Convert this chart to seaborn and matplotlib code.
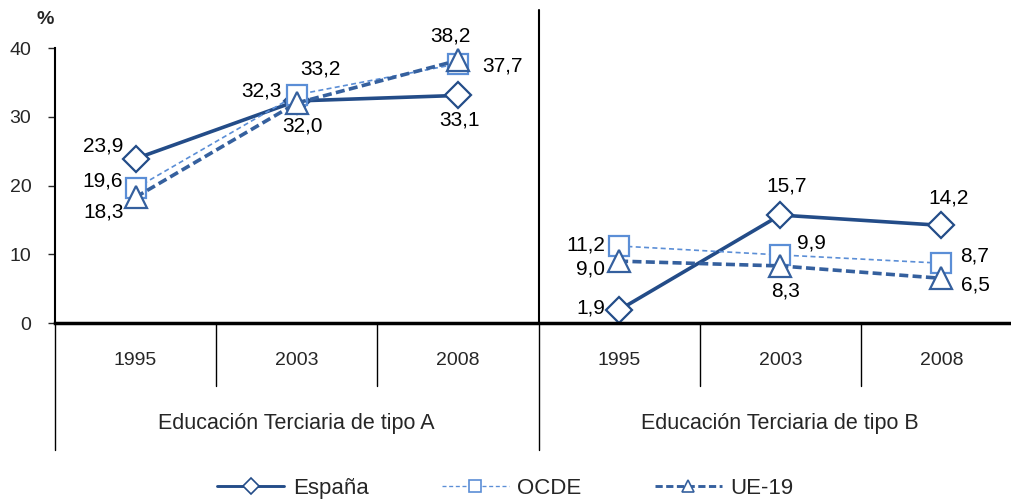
import pandas as pd
import matplotlib.pyplot as plt
from matplotlib.lines import Line2D
import seaborn as sns

grupos = ['Educación Terciaria de tipo A', 'Educación Terciaria de tipo B']
anios = ['1995', '2003', '2008']
series = ['España', 'OCDE', 'UE-19']

espana_a = [23.9, 32.3, 33.1]
espana_b = [1.9, 15.7, 14.2]
ocde_a = [19.6, 33.2, 37.7]
ocde_b = [11.2, 9.9, 8.7]
ue19_a = [18.3, 32.0, 38.2]
ue19_b = [9.0, 8.3, 6.5]

valores = {
    'España': [espana_a, espana_b],
    'OCDE': [ocde_a, ocde_b],
    'UE-19': [ue19_a, ue19_b],
}

rows = []
for s in series:
    for g, vals in enumerate(valores[s]):
        for i, v in enumerate(vals):
            rows.append({'serie': s, 'grupo': g, 'anio': anios[i],
                         'pos': g * len(anios) + i, 'valor': v})
df = pd.DataFrame(rows)

sns.set_style('white')
plt.rcParams['font.family'] = ['Liberation Sans', 'DejaVu Sans']

estilos = {
    'España': dict(color='#234C88', marker='D', markersize=13, linewidth=2.6, linestyle='-'),
    'OCDE': dict(color='#5B8ED6', marker='s', markersize=15, linewidth=1.2, linestyle=(0, (3, 2))),
    'UE-19': dict(color='#35609E', marker='^', markersize=16, linewidth=2.6, linestyle=(0, (2.5, 1.2))),
}

# label placement: (ha, dx, dy) in pixels from the point
etiquetas = {
    'España': [('right', -12, 13), ('right', -15, 10), ('center', 2, -25),
               ('right', -14, 2), ('center', 6, 29), ('center', 7, 27)],
    'OCDE': [('right', -13, 7), ('left', 3, 26), ('left', 24, -2),
             ('right', -14, 1), ('left', 17, 12), ('left', 19, 7)],
    'UE-19': [('right', -12, -15), ('center', 6, -23), ('center', -7, 24),
              ('right', -14, -8), ('center', 5, -25), ('left', 20, -7)],
}

fig = plt.figure(figsize=(10.11, 4.99), dpi=100)
ax = fig.add_axes([0.0544, 0.3527, 0.9565, 0.5511])

for s in series:
    st = estilos[s]
    for g in range(len(grupos)):
        sub = df[(df['serie'] == s) & (df['grupo'] == g)]
        sns.lineplot(data=sub, x='pos', y='valor', ax=ax, errorbar=None,
                     color=st['color'], linewidth=st['linewidth'],
                     linestyle=st['linestyle'], marker=st['marker'],
                     markersize=st['markersize'], markerfacecolor='white',
                     markeredgecolor=st['color'], markeredgewidth=1.6)
    for (_, r), (ha, dx, dy) in zip(df[df['serie'] == s].iterrows(), etiquetas[s]):
        ax.annotate(f"{r['valor']:.1f}".replace('.', ','), (r['pos'], r['valor']),
                    xytext=(dx, dy), textcoords='offset pixels', ha=ha, va='center',
                    fontsize=15, color='black')

if ax.get_legend():
    ax.get_legend().remove()

ax.set_xlim(-0.5, 5.5)
ax.set_ylim(0, 40)
ax.set_yticks([0, 10, 20, 30, 40])
ax.set_xticks([])
ax.set_xlabel('')
ax.set_ylabel('')
ax.tick_params(axis='y', labelsize=14, length=5, width=1, left=True, pad=12)
for side in ['top', 'right']:
    ax.spines[side].set_visible(False)
ax.spines['left'].set_linewidth(1.5)
ax.spines['bottom'].set_linewidth(2.5)
ax.spines['left'].set_color('black')
ax.spines['bottom'].set_color('black')

tr = ax.get_xaxis_transform()
n = len(anios)
for k in range(len(grupos) * n + 1):
    x = k - 0.5
    largo = (k % n == 0)
    ax.plot([x, x], [0, -0.462 if largo else -0.229], transform=tr,
            color='black', linewidth=1, clip_on=False)
ax.plot([2.5, 2.5], [0, 1.14], transform=tr, color='black', linewidth=1.5, clip_on=False)

for g, grupo in enumerate(grupos):
    for i, a in enumerate(anios):
        ax.text(g * n + i, -0.135, a, transform=tr, ha='center', va='center', fontsize=14)
    ax.text(g * n + (n - 1) / 2, -0.364, grupo, transform=tr, ha='center', va='center',
            fontsize=15.5)

fig.text(0.045, 0.96, '%', fontsize=14, fontweight='bold', ha='center', va='center')

handles = [Line2D([0], [0], color=estilos[s]['color'], linewidth=estilos[s]['linewidth'] * 0.8,
                  linestyle=estilos[s]['linestyle'], marker=estilos[s]['marker'],
                  markersize=8, markerfacecolor='white', markeredgecolor=estilos[s]['color'],
                  markeredgewidth=1.2) for s in series]
fig.legend(handles, series, loc='center', bbox_to_anchor=(0.5, 0.022), ncol=3,
           frameon=False, fontsize=16, handlelength=3.0, columnspacing=3.3, numpoints=1,
           handletextpad=0.4)

fig.savefig('out.png', dpi=100)
